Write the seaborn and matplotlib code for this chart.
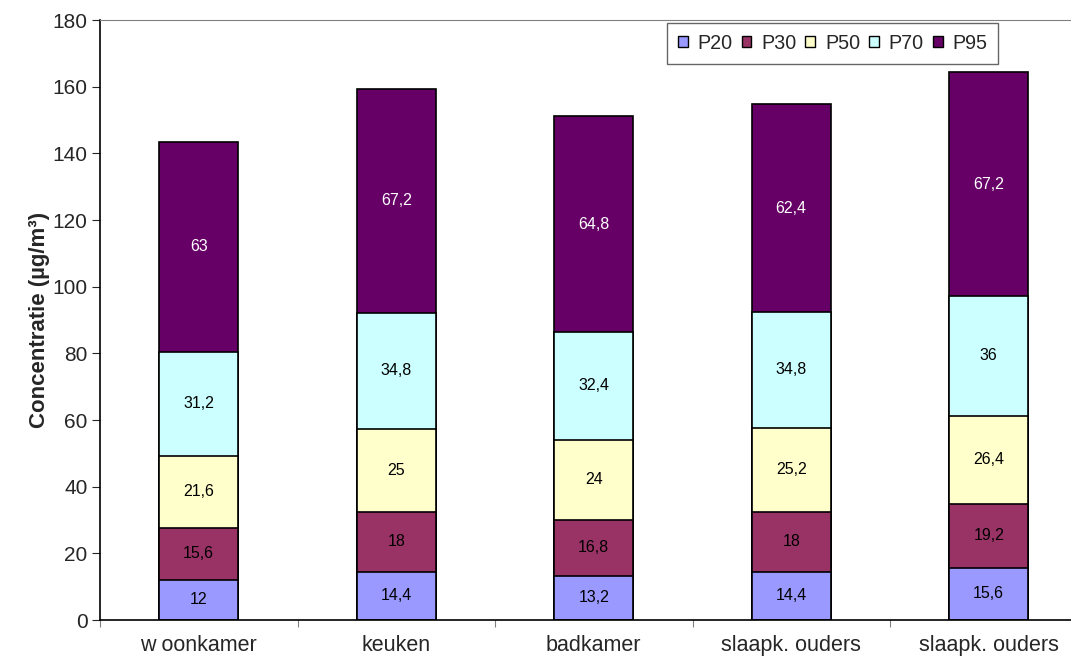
import numpy as np
import pandas as pd
import matplotlib
matplotlib.use("Agg")
import matplotlib.pyplot as plt
import seaborn as sns
from matplotlib.patches import Patch

# data
rooms = ["w oonkamer", "keuken", "badkamer", "slaapk. ouders", "slaapk. ouders"]
series = ["P20", "P30", "P50", "P70", "P95"]
p20 = [12, 14.4, 13.2, 14.4, 15.6]
p30 = [15.6, 18, 16.8, 18, 19.2]
p50 = [21.6, 25, 24, 25.2, 26.4]
p70 = [31.2, 34.8, 32.4, 34.8, 36]
p95 = [63, 67.2, 64.8, 62.4, 67.2]
colors = ["#9999FF", "#993366", "#FFFFCC", "#CCFFFF", "#660066"]
label_colors = ["black", "black", "black", "black", "white"]

sns.set_style("white")
plt.rcParams["font.family"] = ["Liberation Sans", "DejaVu Sans"]

values = np.array([p20, p30, p50, p70, p95])
cum = values.cumsum(axis=0)
pos = list(range(len(rooms)))

fig = plt.figure(figsize=(10.71, 6.58), dpi=100)
ax = fig.add_axes([100 / 1071, 38 / 658, 987.5 / 1071, 600 / 658])

# draw cumulative totals from top down so each layer covers the one above
for k in range(len(series) - 1, -1, -1):
    df = pd.DataFrame({"pos": pos, "val": cum[k]})
    sns.barplot(data=df, x="pos", y="val", color=colors[k], width=0.4,
                edgecolor="black", linewidth=1.2, saturation=1, ax=ax)

for k in range(len(series)):
    for i in pos:
        bottom = cum[k][i] - values[k][i]
        txt = f"{values[k][i]:g}".replace(".", ",")
        ax.text(i, bottom + values[k][i] / 2, txt, ha="center", va="center",
                fontsize=11.5, color=label_colors[k])

ax.set_ylim(0, 180)
ax.set_xlim(-0.5, 4.5)
ax.set_yticks(range(0, 181, 20))
ax.tick_params(axis="y", labelsize=15, length=6, direction="out", left=True, pad=3)

# Excel style: tick marks between categories, labels at the centres
ax.set_xticks([p - 0.5 for p in pos] + [4.5])
ax.set_xticklabels([])
ax.set_xticks(pos, minor=True)
ax.set_xticklabels(rooms, minor=True)
ax.tick_params(axis="x", which="major", length=5, direction="out", bottom=True, color="#808080")
ax.tick_params(axis="x", which="minor", length=0, labelsize=15.5, pad=11)

ax.set_xlabel("")
ax.set_ylabel("Concentratie (µg/m³)", fontsize=16, fontweight="bold", labelpad=2)

for side in ["left", "bottom"]:
    ax.spines[side].set_color("black")
    ax.spines[side].set_linewidth(1.2)
ax.spines["top"].set_color("#808080")
ax.spines["right"].set_visible(False)

handles = [Patch(facecolor=c, edgecolor="black", linewidth=1.0) for c in colors]
leg = ax.legend(handles, series, loc="upper left", bbox_to_anchor=(667 / 1071, 1 - 23 / 658),
                bbox_transform=fig.transFigure, ncol=5, fontsize=14.2, frameon=True,
                fancybox=False, edgecolor="#404040", handlelength=0.5, handleheight=0.5,
                handletextpad=0.5, columnspacing=0.45, borderpad=0.55, borderaxespad=0)
leg.get_frame().set_linewidth(1.0)

fig.savefig("out.png", dpi=100)
